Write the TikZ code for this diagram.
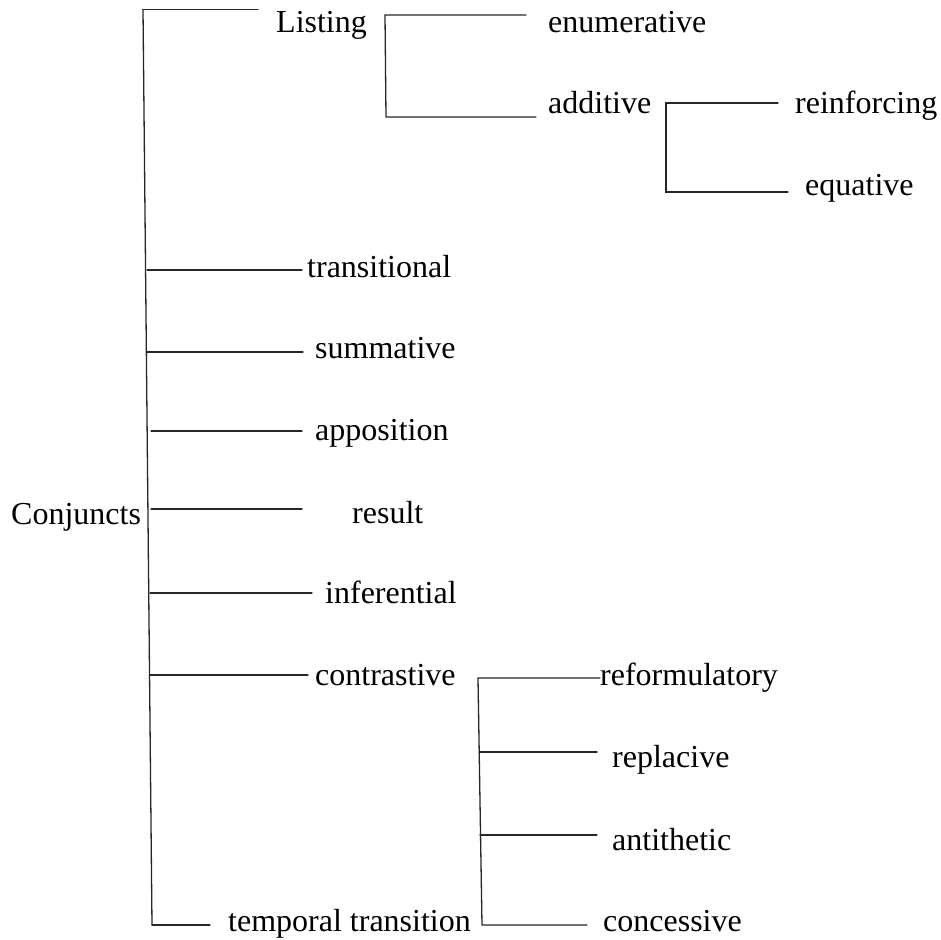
\documentclass[tikz,border=0pt]{standalone}
\usepackage{fontspec}
\setmainfont{Liberation Serif}
\begin{document}
\begin{tikzpicture}[x=1pt,y=-1pt,
  lbl/.style={anchor=base west, inner sep=0pt, font=\fontsize{32}{38}\selectfont},
  conn/.style={line width=1.3pt, black!85, line cap=round}]
\useasboundingbox (0,0) rectangle (940,940);

% labels
\node[lbl] (conj)   at (11,524)  {Conjuncts};
\node[lbl] (listing) at (276,32) {Listing};
\node[lbl] (enum)   at (548,32)  {enumerative};
\node[lbl] (addit)  at (548,113) {additive};
\node[lbl] (reinf)  at (795,113) {reinforcing};
\node[lbl] (equat)  at (805,195) {equative};
\node[lbl] (trans)  at (307,277) {transitional};
\node[lbl] (summ)   at (315,358) {summative};
\node[lbl] (appos)  at (315,440) {apposition};
\node[lbl] (result) at (352,523) {result};
\node[lbl] (infer)  at (325,603) {inferential};
\node[lbl] (contr)  at (315,685) {contrastive};
\node[lbl] (temp)   at (228,931) {temporal transition};
\node[lbl] (reform) at (600,685) {reformulatory};
\node[lbl] (repl)   at (612,767) {replacive};
\node[lbl] (anti)   at (612,850) {antithetic};
\node[lbl] (conc)   at (603,931) {concessive};

% main trunk
\coordinate (trTop) at (143,9.5);
\coordinate (trBot) at (152,925);
\draw[conn] (trTop) -- (trBot);
\coordinate (bListing) at (258,9.5);
\draw[conn] (trTop) -- (bListing);

% branches off the trunk
\coordinate (s1) at (147,270); \coordinate (e1) at (302,270);
\coordinate (s2) at (147,352); \coordinate (e2) at (303,352);
\coordinate (s3) at (151,431); \coordinate (e3) at (302,431);
\coordinate (s4) at (151,509); \coordinate (e4) at (302,509);
\coordinate (s5) at (150,593); \coordinate (e5) at (312,593);
\coordinate (s6) at (150,675); \coordinate (e6) at (308,675);
\coordinate (e7) at (210,925);
\draw[conn] (s1) -- (e1);
\draw[conn] (s2) -- (e2);
\draw[conn] (s3) -- (e3);
\draw[conn] (s4) -- (e4);
\draw[conn] (s5) -- (e5);
\draw[conn] (s6) -- (e6);
\draw[conn] (trBot) -- (e7);

% Listing bracket
\coordinate (lTop) at (385,15);  \coordinate (lTopE) at (526,15);
\coordinate (lBot) at (386,117); \coordinate (lBotE) at (536,117);
\draw[conn] (lTopE) -- (lTop) -- (lBot) -- (lBotE);

% additive bracket
\coordinate (aTop) at (666,103); \coordinate (aTopE) at (778,103);
\coordinate (aBot) at (666,192); \coordinate (aBotE) at (788,192);
\draw[conn] (aTopE) -- (aTop) -- (aBot) -- (aBotE);

% contrastive bracket
\coordinate (cTop) at (478,678); \coordinate (cTopE) at (600,678);
\coordinate (cBot) at (482,925); \coordinate (cBotE) at (587,925);
\coordinate (c2) at (479,752);   \coordinate (c2E) at (597,752);
\coordinate (c3) at (480,835);   \coordinate (c3E) at (597,835);
\draw[conn] (cTopE) -- (cTop) -- (cBot) -- (cBotE);
\draw[conn] (c2) -- (c2E);
\draw[conn] (c3) -- (c3E);
\end{tikzpicture}
\end{document}
